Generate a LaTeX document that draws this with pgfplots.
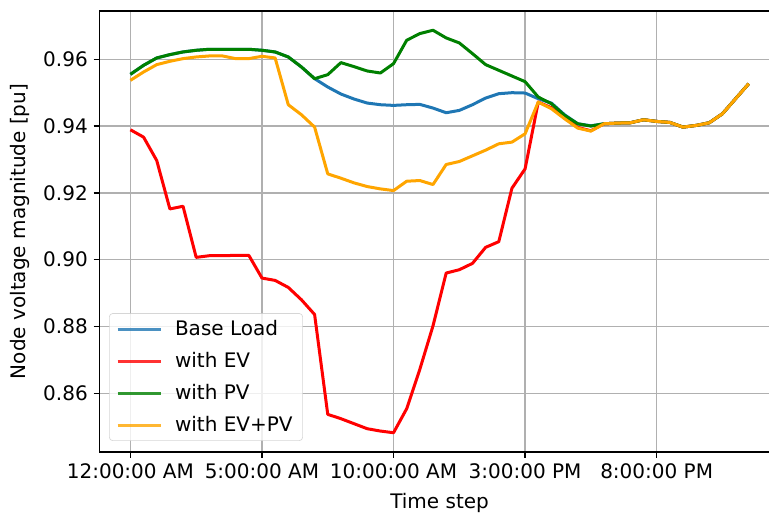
\documentclass[border=0pt]{standalone}
\usepackage{pgfplots}
\pgfplotsset{compat=1.18}
\usepackage{pgfplotstable}
\usepackage{fontspec}
\setmainfont{DejaVu Sans}
\definecolor{mplblue}{HTML}{1F77B4}
\definecolor{mplred}{HTML}{FF0000}
\definecolor{mplgreen}{HTML}{008000}
\definecolor{mplorange}{HTML}{FFA500}
\definecolor{gridgray}{HTML}{B0B0B0}
\pgfplotstableread{
i base ev pv evpv
0 0.9555 0.9389 0.9555 0.9537
1 0.9582 0.9367 0.9582 0.9562
2 0.9604 0.9297 0.9604 0.9584
3 0.9614 0.9152 0.9614 0.9594
4 0.9622 0.9160 0.9622 0.9602
5 0.9627 0.9007 0.9627 0.9607
6 0.9630 0.9012 0.9630 0.9610
7 0.9630 0.9012 0.9630 0.9610
8 0.9630 0.9013 0.9630 0.9602
9 0.9630 0.9013 0.9630 0.9602
10 0.9627 0.8945 0.9627 0.9609
11 0.9622 0.8938 0.9622 0.9604
12 0.9607 0.8917 0.9607 0.9464
13 0.9577 0.8880 0.9577 0.9434
14 0.9542 0.8836 0.9542 0.9397
15 0.9517 0.8537 0.9554 0.9257
16 0.9496 0.8524 0.9590 0.9244
17 0.9481 0.8509 0.9578 0.9230
18 0.9469 0.8494 0.9565 0.9219
19 0.9464 0.8487 0.9559 0.9212
20 0.9462 0.8482 0.9587 0.9207
21 0.9464 0.8554 0.9657 0.9235
22 0.9465 0.8672 0.9677 0.9237
23 0.9454 0.8802 0.9687 0.9225
24 0.9440 0.8960 0.9664 0.9285
25 0.9447 0.8970 0.9649 0.9294
26 0.9464 0.8989 0.9617 0.9311
27 0.9484 0.9037 0.9584 0.9328
28 0.9497 0.9054 0.9567 0.9347
29 0.9500 0.9214 0.9550 0.9352
30 0.9499 0.9272 0.9533 0.9377
31 0.9482 0.9472 0.9487 0.9472
32 0.9469 0.9455 0.9467 0.9452
33 0.9434 0.9424 0.9432 0.9422
34 0.9407 0.9396 0.9407 0.9394
35 0.9401 0.9386 0.9400 0.9385
36 0.9407 0.9407 0.9407 0.9407
37 0.9409 0.9409 0.9409 0.9409
38 0.9410 0.9410 0.9410 0.9410
39 0.9419 0.9419 0.9419 0.9419
40 0.9414 0.9414 0.9414 0.9414
41 0.9411 0.9411 0.9411 0.9411
42 0.9397 0.9397 0.9397 0.9397
43 0.9402 0.9402 0.9402 0.9402
44 0.9410 0.9410 0.9410 0.9410
45 0.9437 0.9437 0.9437 0.9437
46 0.9482 0.9482 0.9482 0.9482
47 0.9527 0.9527 0.9527 0.9527
}\datatable
\begin{document}
\begin{tikzpicture}
\useasboundingbox (-59.7pt,-36.6pt) rectangle (401.7pt,271.2pt);
\clip (-59.7pt,-36.6pt) rectangle (401.7pt,271.2pt);
\begin{axis}[
  at={(0,0)}, anchor=south west,
  scale only axis, width=408.1pt, height=264.6pt,
  xmin=-2.35, xmax=49.35, ymin=0.84243, ymax=0.97446,
  xtick={0,10,20,30,40},
  xticklabels={12:00:00 AM,5:00:00 AM,10:00:00 AM,3:00:00 PM,8:00:00 PM},
  ytick={0.86,0.88,0.90,0.92,0.94,0.96},
  yticklabel style={/pgf/number format/.cd, fixed, fixed zerofill, precision=2, assume math mode=true},
  every tick label/.append style={font=\fontsize{12}{14.4}\selectfont},
  xtick pos=bottom, ytick pos=left,
  tick align=outside, major tick length=3.5pt,
  tick style={black, line width=0.8pt},
  axis line style={black, line width=0.8pt},
  grid=major, grid style={gridgray, line width=0.8pt},
  xlabel={Time step}, ylabel={Node voltage magnitude [pu]},
  every axis x label/.style={at={(axis description cs:0.5,-0.1156)}, anchor=center, font=\fontsize{12}{14.4}\selectfont},
  every axis y label/.style={at={(axis description cs:-0.117,0.5)}, anchor=center, rotate=90, font=\fontsize{12}{14.4}\selectfont},
  legend style={at={(axis description cs:0.014,0.025)}, anchor=south west,
    draw=black!20, rounded corners=2pt, fill=white, fill opacity=0.8, draw opacity=0.8, text opacity=1,
    font=\fontsize{12}{14.4}\selectfont, row sep=4.6pt, inner xsep=4pt, inner ysep=2pt,
    cells={anchor=west},
    /tikz/every odd column/.append style={column sep=5.6pt}},
  legend image code/.code={\draw[#1, line width=1.8pt] (0pt,0pt) -- (26pt,0pt);},
  legend cell align=left,
  every axis plot/.append style={line width=1.8pt, line join=round},
]
\addplot[mplblue, no marks] table[x=i, y=base] {\datatable};
\addlegendentry{Base Load}
\addplot[mplred, no marks] table[x=i, y=ev] {\datatable};
\addlegendentry{with EV}
\addplot[mplgreen, no marks] table[x=i, y=pv] {\datatable};
\addlegendentry{with PV}
\addplot[mplorange, no marks] table[x=i, y=evpv] {\datatable};
\addlegendentry{with EV+PV}
\end{axis}
\end{tikzpicture}
\end{document}
